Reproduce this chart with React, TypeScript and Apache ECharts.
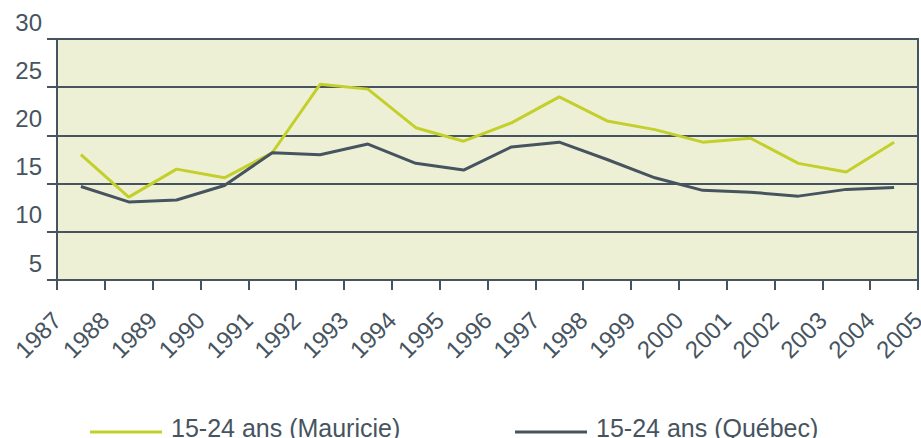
import React, { useEffect, useRef } from "react";
import * as echarts from "echarts";

const years = [1987, 1988, 1989, 1990, 1991, 1992, 1993, 1994, 1995, 1996, 1997, 1998, 1999, 2000, 2001, 2002, 2003, 2004];
const mauricie = [18.0, 13.6, 16.5, 15.6, 18.2, 25.3, 24.8, 20.8, 19.4, 21.3, 24.0, 21.5, 20.6, 19.3, 19.7, 17.1, 16.2, 19.3];
const quebec = [14.7, 13.1, 13.3, 14.8, 18.2, 18.0, 19.1, 17.1, 16.4, 18.8, 19.3, 17.5, 15.6, 14.3, 14.1, 13.7, 14.4, 14.6];
const seriesNames = ["15-24 ans (Mauricie)", "15-24 ans (Québec)"];

const DARK = "#46545f";
const GREEN = "#c3cf2a";
const seriesColors = [GREEN, DARK];
const FONT = "'Liberation Sans', Arial, Helvetica, sans-serif";

export default function App() {
  const ref = useRef<HTMLDivElement>(null);
  useEffect(() => {
    if (!ref.current) return;
    const chart = echarts.init(ref.current, undefined, { renderer: "svg" });
    const toPairs = (vals: number[]) => vals.map((v, i) => [years[i] + 0.5, v]);
    const legendX = [90, 515];
    const legendGraphics: any[] = [];
    seriesNames.forEach((name, i) => {
      legendGraphics.push({
        type: "line",
        shape: { x1: legendX[i], y1: 432, x2: legendX[i] + 72, y2: 432 },
        style: { stroke: seriesColors[i], lineWidth: 3 },
      });
      legendGraphics.push({
        type: "text",
        x: legendX[i] + 81,
        y: 428,
        style: {
          text: name,
          fill: DARK,
          font: `25px ${FONT}`,
          verticalAlign: "middle",
          align: "left",
        },
      });
    });
    chart.setOption({
      animation: false,
      textStyle: { fontFamily: FONT },
      grid: {
        left: 57,
        right: 3,
        top: 39,
        bottom: 158,
        show: true,
        backgroundColor: "#eef0d6",
        borderColor: DARK,
        borderWidth: 2,
        outerBoundsMode: "none",
      },
      graphic: legendGraphics,
      xAxis: {
        type: "value",
        min: 1987,
        max: 2005,
        interval: 1,
        axisLine: { show: true, lineStyle: { color: DARK, width: 2 } },
        axisTick: { show: true, inside: false, length: 10, lineStyle: { color: DARK, width: 2 } },
        splitLine: { show: false },
        axisLabel: {
          rotate: 45,
          margin: 36,
          fontSize: 24,
          color: DARK,
          fontFamily: FONT,
          formatter: (v: number) => String(v),
          showMinLabel: true,
          showMaxLabel: true,
        },
      },
      yAxis: {
        type: "value",
        min: 5,
        max: 30,
        interval: 5,
        axisLine: { show: true, lineStyle: { color: DARK, width: 2 } },
        axisTick: { show: true, inside: false, length: 10, lineStyle: { color: DARK, width: 2 } },
        splitLine: { show: true, lineStyle: { color: DARK, width: 2 } },
        axisLabel: {
          margin: 15,
          fontSize: 24,
          color: DARK,
          fontFamily: FONT,
          verticalAlign: "bottom",
          lineHeight: 24,
          padding: [0, 0, 5, 0],
        },
      },
      series: [
        {
          name: seriesNames[0],
          type: "line",
          data: toPairs(mauricie),
          symbol: "none",
          lineStyle: { color: seriesColors[0], width: 3 },
          itemStyle: { color: seriesColors[0] },
        },
        {
          name: seriesNames[1],
          type: "line",
          data: toPairs(quebec),
          symbol: "none",
          lineStyle: { color: seriesColors[1], width: 3 },
          itemStyle: { color: seriesColors[1] },
        },
      ],
    });
    return () => chart.dispose();
  }, []);
  return (
    <div
      ref={ref}
      style={{ position: "fixed", left: 0, top: 0, width: 921, height: 438, background: "#fff" }}
    />
  );
}
